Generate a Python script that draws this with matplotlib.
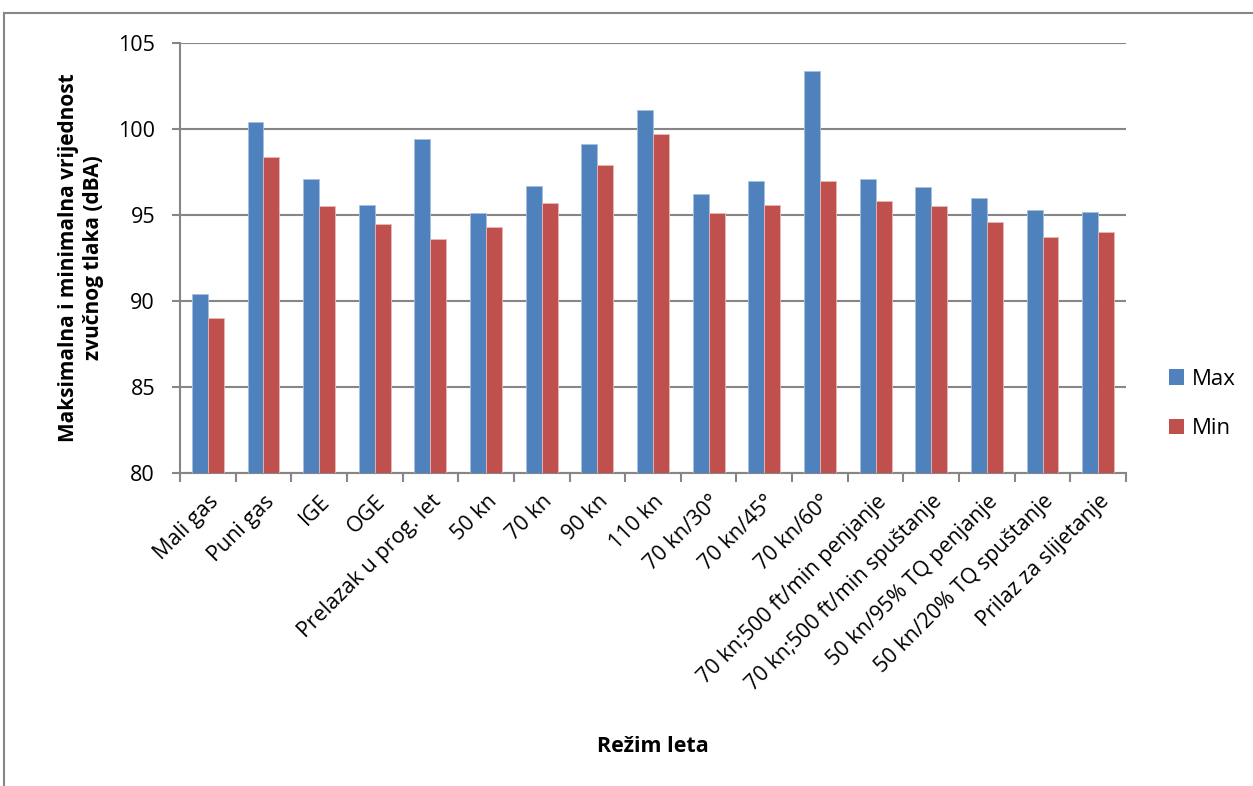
import matplotlib
matplotlib.use("Agg")
import matplotlib.pyplot as plt
import numpy as np
from matplotlib.lines import Line2D
from matplotlib.patches import Patch

categories = ["Mali gas", "Puni gas", "IGE", "OGE", "Prelazak u prog. let", "50 kn",
              "70 kn", "90 kn", "110 kn", "70 kn/30°", "70 kn/45°", "70 kn/60°",
              "70 kn;500 ft/min penjanje", "70 kn;500 ft/min spuštanje",
              "50 kn/95% TQ penjanje", "50 kn/20% TQ spuštanje", "Prilaz za slijetanje"]
max_vals = [90.4, 100.4, 97.1, 95.6, 99.4, 95.1, 96.7, 99.1, 101.1, 96.2, 97.0, 103.4,
            97.1, 96.6, 96.0, 95.3, 95.2]
min_vals = [89.0, 98.4, 95.5, 94.5, 93.6, 94.3, 95.7, 97.9, 99.7, 95.1, 95.6, 97.0,
            95.8, 95.5, 94.6, 93.7, 94.0]
y_ticks = [80, 85, 90, 95, 100, 105]

plt.rcParams['font.family'] = ['Open Sans', 'DejaVu Sans']

fig = plt.figure(figsize=(12.53, 7.86), dpi=100)
ax = fig.add_axes([180/1253, 1-473/786, (1126-180)/1253, (473-43)/786])

blue = "#4F81BD"
red = "#C0504D"
x = np.arange(len(categories))
w = 0.286
ax.bar(x - w/2, max_vals, w, color=blue, edgecolor="#A7BFDE", linewidth=0.6, label="Max", zorder=3)
ax.bar(x + w/2, min_vals, w, color=red, edgecolor="#E6B9B8", linewidth=0.6, label="Min", zorder=3)

ax.set_ylim(80, 105)
ax.set_xlim(-0.5, len(categories) - 0.5)
ax.set_yticks(y_ticks)
ax.set_yticklabels([str(t) for t in y_ticks], fontsize=15.5)
ax.yaxis.grid(True, color="#868686", linewidth=1.5, zorder=0)
ax.set_axisbelow(True)

ax.set_xticks(x)
ax.set_xticklabels(categories, rotation=45, ha="right", rotation_mode="anchor", fontsize=15.5)
ax.tick_params(axis="x", which="major", length=0, pad=13)
ax.set_xticks(np.arange(-0.5, len(categories), 1), minor=True)
ax.tick_params(axis="x", which="minor", length=6.5, width=1.5, color="#868686", direction="out")
ax.tick_params(axis="y", length=6, width=1.5, color="#868686", direction="out", pad=12)

for s in ["top", "right"]:
    ax.spines[s].set_visible(False)
for s in ["left", "bottom"]:
    ax.spines[s].set_color("#868686")
    ax.spines[s].set_linewidth(1.5)

ax.set_ylabel("Maksimalna i minimalna vrijednost\nzvučnog tlaka (dBA)", fontsize=15,
              fontweight="bold", linespacing=1.25)
ax.yaxis.set_label_coords(-(180-104)/946, 0.5)
fig.text(653/1253, 1-746/786, "Režim leta", fontsize=15.5, fontweight="bold", ha="center", va="center")

handles = [Patch(facecolor=blue, edgecolor="none"), Patch(facecolor=red, edgecolor="none")]
leg = fig.legend(handles, ["Max", "Min"], loc="center left", bbox_to_anchor=(1153/1253, 1-404/786),
                 frameon=False, fontsize=16, handlelength=0.7, handleheight=0.7,
                 labelspacing=1.3, handletextpad=0.35, borderpad=0.2)

# outer chart border (left and top)
fig.add_artist(Line2D([4/1253, 4/1253], [0, 1-13/786], transform=fig.transFigure, color="#868686", linewidth=1.5))
fig.add_artist(Line2D([4/1253, 1], [1-13/786, 1-13/786], transform=fig.transFigure, color="#868686", linewidth=1.5))

fig.savefig("out.png", dpi=100)
